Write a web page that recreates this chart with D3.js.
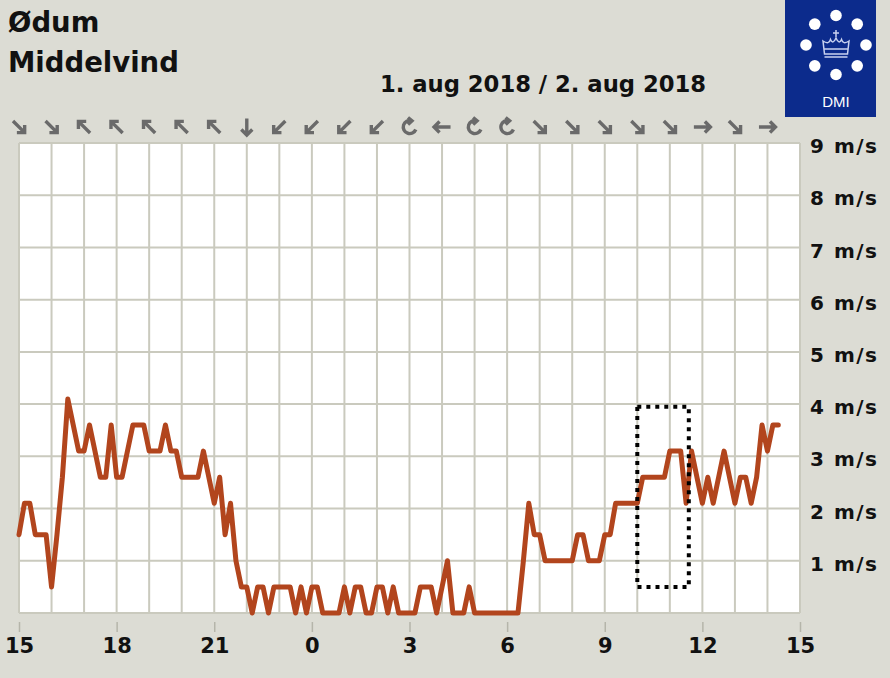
<!DOCTYPE html>
<html>
<head>
<meta charset="utf-8">
<script src="https://cdn.jsdelivr.net/npm/d3@7"></script>
<style>
  html, body { margin: 0; padding: 0; background: #dcdcd4; }
  svg { display: block; font-family: "DejaVu Sans", sans-serif; }
</style>
</head>
<body>
<div id="js_chart"></div>
<script>
// ******************************************************
// Data
// ******************************************************
const station = "Ødum";
const measure = "Middelvind";
const dateLabel = "1. aug 2018 / 2. aug 2018";

// first observation 1 aug 15:00, one value every 10 minutes (m/s)
const startTime = new Date(2018, 7, 1, 15, 0);
const endTime = new Date(2018, 7, 2, 15, 0);
const stepMinutes = 10;
const windSpeed = [
  1.5, 2.1, 2.1, 1.5, 1.5, 1.5, 0.5, 1.5, 2.6, 4.1,
  3.6, 3.1, 3.1, 3.6, 3.1, 2.6, 2.6, 3.6, 2.6, 2.6,
  3.1, 3.6, 3.6, 3.6, 3.1, 3.1, 3.1, 3.6, 3.1, 3.1,
  2.6, 2.6, 2.6, 2.6, 3.1, 2.6, 2.1, 2.6, 1.5, 2.1,
  1.0, 0.5, 0.5, 0.0, 0.5, 0.5, 0.0, 0.5, 0.5, 0.5,
  0.5, 0.0, 0.5, 0.0, 0.5, 0.5, 0.0, 0.0, 0.0, 0.0,
  0.5, 0.0, 0.5, 0.5, 0.0, 0.0, 0.5, 0.5, 0.0, 0.5,
  0.0, 0.0, 0.0, 0.0, 0.5, 0.5, 0.5, 0.0, 0.5, 1.0,
  0.0, 0.0, 0.0, 0.5, 0.0, 0.0, 0.0, 0.0, 0.0, 0.0,
  0.0, 0.0, 0.0, 1.0, 2.1, 1.5, 1.5, 1.0, 1.0, 1.0,
  1.0, 1.0, 1.0, 1.5, 1.5, 1.0, 1.0, 1.0, 1.5, 1.5,
  2.1, 2.1, 2.1, 2.1, 2.1, 2.6, 2.6, 2.6, 2.6, 2.6,
  3.1, 3.1, 3.1, 2.1, 3.1, 2.6, 2.1, 2.6, 2.1, 2.6,
  3.1, 2.6, 2.1, 2.6, 2.6, 2.1, 2.6, 3.6, 3.1, 3.6,
  3.6
];

// hourly wind direction symbols, 15:00 .. 14:00 (↻ = variable)
const windDirections = [
  "↘", "↘", "↖", "↖", "↖", "↖", "↖", "↓", "↙", "↙", "↙", "↙",
  "↻", "←", "↻", "↻", "↘", "↘", "↘", "↘", "↘", "→", "↘", "→"
];

const speedTicks = [1, 2, 3, 4, 5, 6, 7, 8, 9];

// dotted highlight box: time span and speed span
const boxTimes = [new Date(2018, 7, 2, 10, 0), new Date(2018, 7, 2, 11, 35)];
const boxSpeeds = [0.5, 3.95];

// ******************************************************
// Settings
// ******************************************************
const width = 890, height = 678;
const plot = {left: 19, right: 800, top: 143, bottom: 613};

const lineColor = "#b2451d";
const gridColor = "#cacabe";
const arrowColor = "#6a6a6a";

// rotation of a downward arrow for each symbol
const arrowAngle = {"↓": 0, "↙": 45, "←": 90, "↖": 135, "↑": 180, "↗": 225, "→": 270, "↘": 315};

let points = windSpeed.map(function (v, i) {
    return {t: new Date(startTime.getTime() + i * stepMinutes * 60000), v: v};
});

let x = d3.scaleTime()
    .domain([startTime, endTime])
    .range([plot.left, plot.right]);

let y = d3.scaleLinear()
    .domain([0, 9])
    .range([plot.bottom, plot.top]);

// ******************************************************
// svg
// ******************************************************
let svg = d3.select("#js_chart")
    .append("svg")
    .attr("width", width)
    .attr("height", height);

svg.append("rect")
    .attr("width", width).attr("height", height)
    .attr("fill", "#dcdcd4");

// plot area
svg.append("rect")
    .attr("x", plot.left).attr("y", plot.top)
    .attr("width", plot.right - plot.left)
    .attr("height", plot.bottom - plot.top)
    .attr("fill", "#ffffff");

// grid
let grid = svg.append("g").attr("stroke", gridColor).attr("stroke-width", 2);

grid.selectAll(".vgrid")
    .data(x.ticks(d3.timeHour.every(1)))
    .enter().append("line")
        .attr("x1", d => x(d)).attr("x2", d => x(d))
        .attr("y1", plot.top).attr("y2", plot.bottom);

grid.selectAll(".hgrid")
    .data(d3.range(0, 10))
    .enter().append("line")
        .attr("x1", plot.left).attr("x2", plot.right)
        .attr("y1", d => y(d)).attr("y2", d => y(d));

// bottom axis (hours)
let xAxis = svg.append("g")
    .attr("transform", "translate(0," + 622 + ")")
    .call(d3.axisBottom(x)
        .ticks(d3.timeHour.every(3))
        .tickFormat(d3.timeFormat("%-H"))
        .tickSize(10));

xAxis.select(".domain").remove();
xAxis.selectAll("line").attr("stroke", "#b5b5aa").attr("stroke-width", 1.5);
xAxis.selectAll("text")
    .attr("y", 31).attr("dy", null)
    .attr("fill", "#111")
    .style("font-family", "DejaVu Sans")
    .style("font-weight", "bold")
    .style("font-size", "21px");

// right axis (m/s)
let yAxis = svg.append("g")
    .attr("transform", "translate(" + plot.right + ",0)")
    .call(d3.axisRight(y)
        .tickValues(speedTicks)
        .tickFormat(d => d + " m/s")
        .tickSize(0)
        .tickPadding(10));

yAxis.select(".domain").remove();
yAxis.selectAll("text")
    .attr("dy", "0.48em")
    .attr("fill", "#111")
    .style("font-family", "DejaVu Sans")
    .style("font-weight", "bold")
    .style("font-size", "20px")
    .style("letter-spacing", "1.5px");

// wind speed line
let line = d3.line()
    .x(d => x(d.t))
    .y(d => y(d.v));

svg.append("path")
    .datum(points)
    .attr("d", line)
    .attr("fill", "none")
    .attr("stroke", lineColor)
    .attr("stroke-width", 5)
    .attr("stroke-linejoin", "round")
    .attr("stroke-linecap", "round");

// dotted box
svg.append("rect")
    .attr("x", x(boxTimes[0]))
    .attr("y", y(boxSpeeds[1]))
    .attr("width", x(boxTimes[1]) - x(boxTimes[0]))
    .attr("height", y(boxSpeeds[0]) - y(boxSpeeds[1]))
    .attr("fill", "none")
    .attr("stroke", "#000")
    .attr("stroke-width", 4)
    .attr("stroke-dasharray", "4,5");

// wind direction row
let arrows = svg.append("g")
    .selectAll("g")
    .data(windDirections)
    .enter().append("g")
        .attr("transform", (d, i) => "translate(" + x(d3.timeHour.offset(startTime, i)) + ",127)")
        .attr("fill", "none")
        .attr("stroke", arrowColor)
        .attr("stroke-width", 3.4);

arrows.filter(d => d !== "↻")
    .append("path")
        .attr("transform", d => "rotate(" + arrowAngle[d] + ")")
        .attr("d", "M0,-8.5 L0,8 M-5.5,2.5 L0,8 L5.5,2.5");

// variable direction: open circle with arrow head
arrows.filter(d => d === "↻")
    .append("path")
        .attr("d", "M2,-6.2 A6.5,6.5 0 1 0 6.3,2.5 M-1.5,-9.5 L2.5,-6.2 L-1.5,-2.5");

// titles
svg.append("text")
    .attr("x", 8).attr("y", 32)
    .attr("fill", "#111")
    .style("font-weight", "bold")
    .style("font-size", "27.5px")
    .text(station);

svg.append("text")
    .attr("x", 8).attr("y", 72)
    .attr("fill", "#111")
    .style("font-weight", "bold")
    .style("font-size", "27.5px")
    .text(measure);

svg.append("text")
    .attr("x", 543).attr("y", 92)
    .attr("text-anchor", "middle")
    .attr("fill", "#111")
    .style("font-weight", "bold")
    .style("font-size", "22.7px")
    .text(dateLabel);

// ******************************************************
// DMI logo
// ******************************************************
let logo = svg.append("g").attr("transform", "translate(785,0)");
logo.append("rect")
    .attr("width", 91).attr("height", 117)
    .attr("fill", "#0c2b8c");

logo.selectAll("circle")
    .data(d3.range(8))
    .enter().append("circle")
        .attr("cx", d => 51 + 30 * Math.sin(d * Math.PI / 4))
        .attr("cy", d => 45 - 29.5 * Math.cos(d * Math.PI / 4))
        .attr("r", 5.8)
        .attr("fill", "#fff");

// crown
logo.append("path")
    .attr("d",
        "M51,30 L51,37 M48,33 L54,33 " +
        "M39.5,54 L38,41 Q44,45 45.5,39.5 Q48,45 51,38 Q54,45 56.5,39.5 Q58,45 64,41 L62.5,54 Z " +
        "M39.5,49 L62.5,49 M39.5,57 L62.5,57")
    .attr("fill", "none")
    .attr("stroke", "#c9d2f0")
    .attr("stroke-width", 1.5);

logo.append("text")
    .attr("x", 51).attr("y", 107)
    .attr("text-anchor", "middle")
    .attr("fill", "#fff")
    .style("font-family", "Liberation Sans, Arial, sans-serif")
    .style("font-size", "15px")
    .text("DMI");
</script>
</body>
</html>
